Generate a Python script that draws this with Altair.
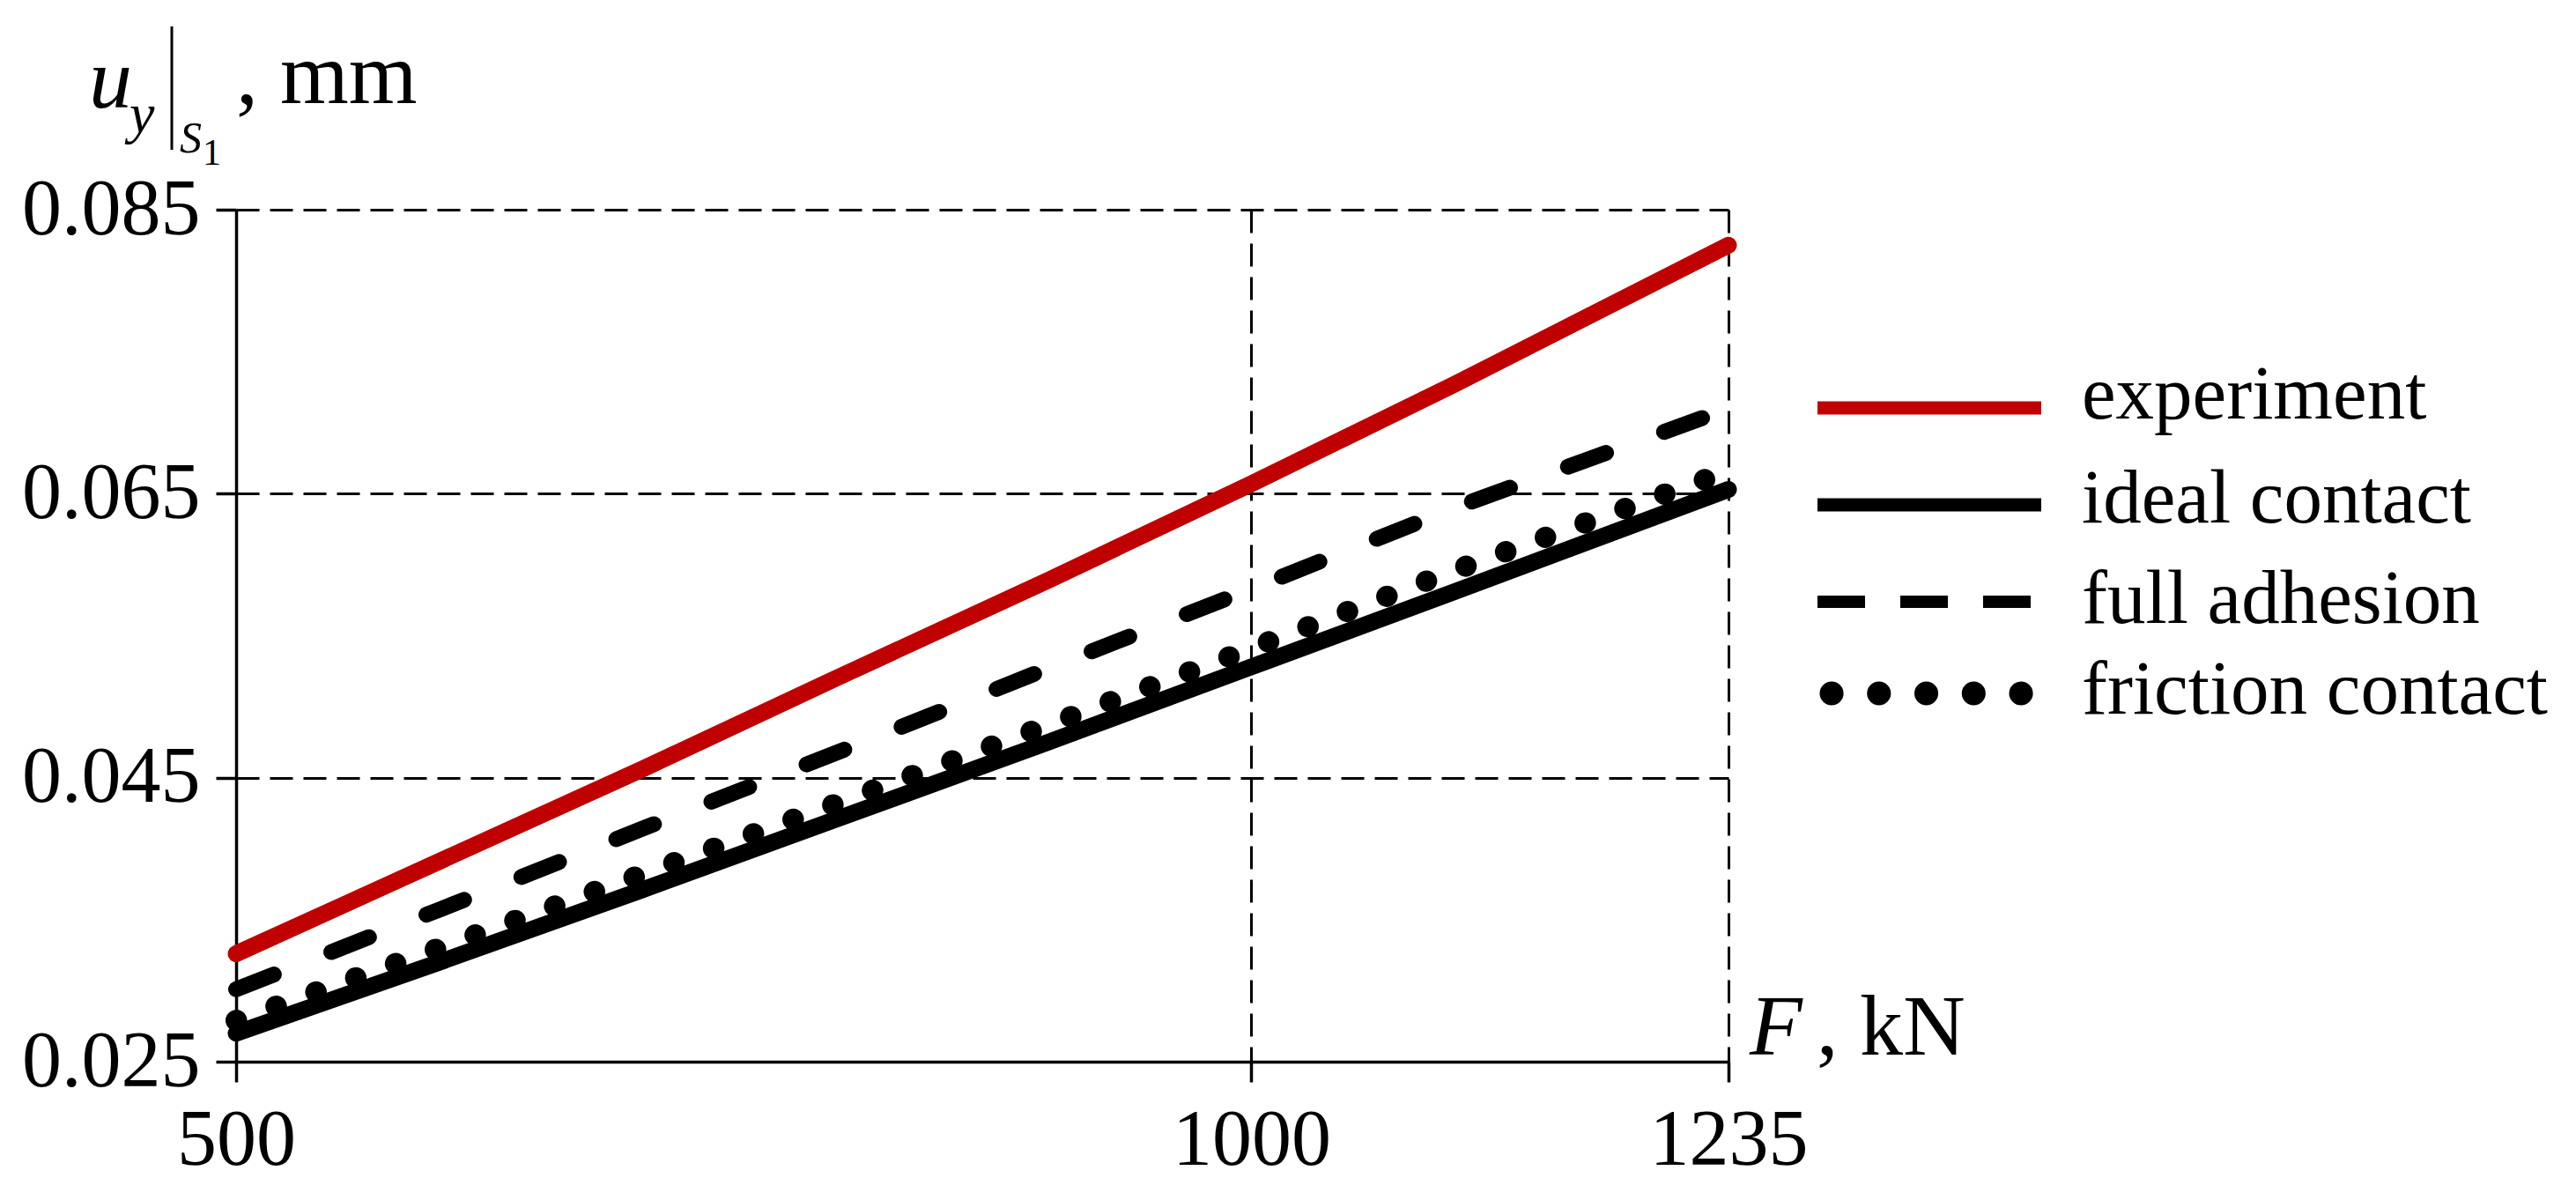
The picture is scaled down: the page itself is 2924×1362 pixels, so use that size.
import altair as alt
import pandas as pd

# ---- data ----
F = [500, 600, 700, 800, 900, 1000, 1100, 1235]
experiment = [0.0326, 0.0391, 0.0456, 0.0523, 0.0589, 0.0657, 0.0727, 0.0825]
ideal_contact = [0.0270, 0.0320, 0.0371, 0.0423, 0.0475, 0.0528, 0.0581, 0.0653]
full_adhesion = [0.0301, 0.0357, 0.0414, 0.0470, 0.0527, 0.0583, 0.0640, 0.0710]
friction_contact = [0.0279, 0.0330, 0.0382, 0.0434, 0.0487, 0.0541, 0.0596, 0.0666]

series_names = ["experiment", "ideal contact", "full adhesion", "friction contact"]
x_ticks = [500, 1000, 1235]
y_ticks = [0.025, 0.045, 0.065, 0.085]

rows = []
for name, vals in zip(series_names, [experiment, ideal_contact, full_adhesion, friction_contact]):
    for f, v in zip(F, vals):
        rows.append({"F": f, "u": v, "series": name})
df = pd.DataFrame(rows)

W, H = 1694, 967
SERIF = "Liberation Serif"
RED = "#c00000"

x_enc = alt.X("F:Q", scale=alt.Scale(domain=[500, 1235], nice=False, zero=False),
              axis=alt.Axis(values=x_ticks, format="d", title=None, labelPadding=22,
                            labelFlush=False, labelLimit=0, labelOverlap=False))
y_enc = alt.Y("u:Q", scale=alt.Scale(domain=[0.025, 0.085], nice=False, zero=False),
              axis=alt.Axis(values=y_ticks, format=".3f", title=None, labelPadding=18,
                            labelFlush=False, labelLimit=0, labelOverlap=False))

base = alt.Chart(df).encode(x=x_enc, y=y_enc)

styles = {
    "experiment": dict(color=RED, strokeWidth=19, strokeCap="round"),
    "ideal contact": dict(color="black", strokeWidth=19, strokeCap="round"),
    "full adhesion": dict(color="black", strokeWidth=18, strokeCap="round", strokeDash=[46, 70]),
    "friction contact": dict(color="black", strokeWidth=24, strokeCap="round", strokeDash=[0.5, 47.5]),
}

layers = []
for name in series_names:
    layers.append(
        base.transform_filter(alt.datum.series == name).mark_line(**styles[name])
    )

one = pd.DataFrame({"k": [0]})

# ---- legend (manual, to the right of the plot) ----
leg_rows_y = [225, 335, 445, 549]
leg_text_y = [237, 355, 469, 572]
leg_styles = [
    dict(color=RED, strokeWidth=15, strokeCap="butt"),
    dict(color="black", strokeWidth=15, strokeCap="butt"),
    dict(color="black", strokeWidth=14, strokeCap="butt", strokeDash=[54, 40]),
    dict(color="black", strokeWidth=27, strokeCap="round", strokeDash=[0.1, 53.65]),
]
leg_x = [(1795, 2049), (1795, 2049), (1795, 2037), (1811, 2026.1)]
for name, ly, ty, st, (x1, x2) in zip(series_names, leg_rows_y, leg_text_y, leg_styles, leg_x):
    layers.append(alt.Chart(one).mark_rule(**st).encode(
        x=alt.value(x1), x2=alt.value(x2), y=alt.value(ly)))
    layers.append(alt.Chart(one).mark_text(
        text=name, font=SERIF, fontSize=87, align="left", baseline="alphabetic", color="black"
    ).encode(x=alt.value(2095), y=alt.value(ty)))

# ---- y axis title: u_y |_{S1} , mm ----
def txt(s, x, y, size, italic=False):
    kw = dict(text=s, font=SERIF, fontSize=size, align="left", baseline="alphabetic", color="black")
    if italic:
        kw["fontStyle"] = "italic"
    return alt.Chart(one).mark_text(**kw).encode(x=alt.value(x), y=alt.value(y))

layers.append(txt("u", -167, -116, 98, italic=True))
layers.append(txt("y", -121, -88, 64, italic=True))
layers.append(alt.Chart(one).mark_rule(color="black", strokeWidth=3).encode(
    x=alt.value(-73), y=alt.value(-208), y2=alt.value(-68)))
layers.append(txt("S", -64, -65, 50, italic=True))
layers.append(txt("1", -38, -51, 42))
layers.append(txt(", mm", 0, -121, 100))

# ---- x axis title: F , kN ----
layers.append(txt("F", 1718, 959, 98, italic=True))
layers.append(txt(", kN", 1794, 959, 98))

chart = alt.layer(*layers).properties(
    width=W, height=H,
    autosize=alt.AutoSizeParams(type="none"),
    padding={"left": 260, "top": 230, "right": 940, "bottom": 148},
    background="white",
).configure_view(stroke=None).configure_axis(
    domainColor="black", domainWidth=3.5,
    tickColor="black", tickWidth=3.5, tickSize=23,
    labelColor="black", labelFont=SERIF, labelFontSize=90,
    grid=True, gridColor="black", gridWidth=3, gridDash=[26, 12], gridOpacity=1,
)

chart.save("out.html", embed_options={"renderer": "svg", "actions": False})
